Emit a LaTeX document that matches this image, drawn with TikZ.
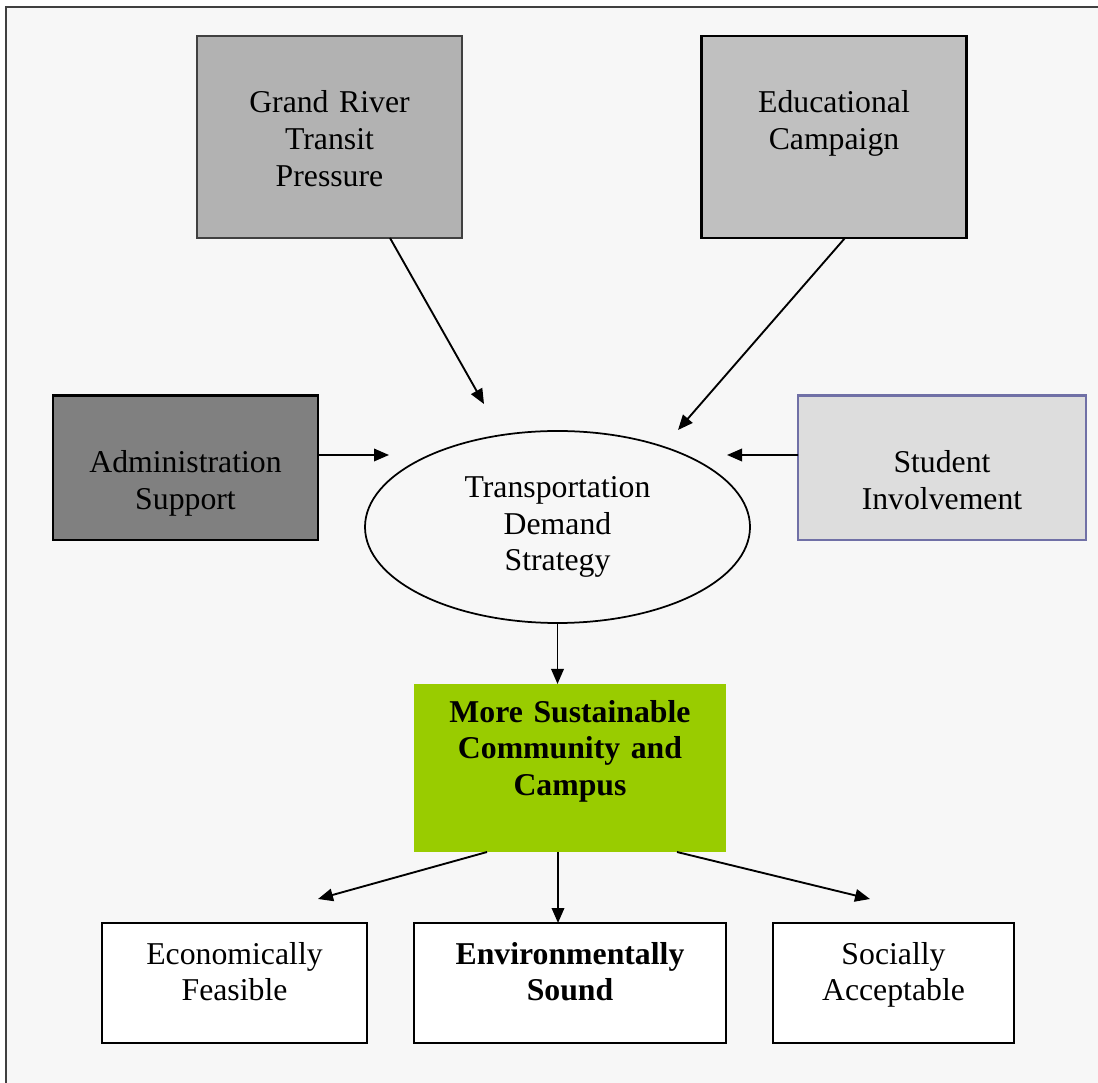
\documentclass[tikz,border=0pt]{standalone}
\usepackage{fontspec}
\setmainfont{Liberation Serif}
\usetikzlibrary{arrows.meta,shapes,positioning,calc}
\definecolor{paper}{HTML}{F7F7F7}
\definecolor{framegrey}{HTML}{404040}
\definecolor{midgrey}{HTML}{B2B2B2}
\definecolor{lightgrey}{HTML}{C0C0C0}
\definecolor{darkgrey}{HTML}{808080}
\definecolor{palegrey}{HTML}{DDDDDD}
\definecolor{paleedge}{HTML}{7070A6}
\definecolor{leaf}{HTML}{99CC00}
\newcommand\diagfont{\fontsize{12.7}{14.7}\selectfont}
\tikzstyle{block} = [rectangle, draw, line width=0.9pt, inner sep=0pt, outer sep=0pt,
    anchor=north, align=center, text height=30.8pt, text depth=50pt]
\tikzstyle{leafbox} = [block, text height=16.4pt, text depth=31.6pt,
    fill=white, draw=black]

\begin{document}
\begin{tikzpicture}[x=0.4pt,y=-0.4pt,font=\diagfont,
                    >={Triangle[length=6pt,width=5pt]}]
  \useasboundingbox (0,0) rectangle (1098,1083);
  \fill[white] (0,0) rectangle (1098,1083);
  \fill[paper] (6,7) rectangle (1098,1083);
  \draw[framegrey, line width=1pt] (6,1083) |- (1098,7);

  \node[block, fill=midgrey, draw=framegrey, text width=106pt] (grt) at (329.5,36) {Grand River\\Transit\\Pressure};
  \node[block, fill=lightgrey, draw=black, text width=106pt] (edu) at (834,36) {Educational\\Campaign};
  \node[block, fill=darkgrey, draw=black, text width=106pt, text depth=27pt] (adm) at (185.5,395.5) {Administration\\Support};
  \node[block, fill=palegrey, draw=paleedge, text width=115.2pt, text depth=27pt] (stu) at (942,395.5) {Student\\Involvement};
  \node[ellipse, draw, line width=0.7pt, inner sep=0pt, outer sep=0pt, align=center,
        minimum width=154pt, minimum height=76.8pt] (tds) at (557.5,527) {Transportation\\Demand\\Strategy};
  \node[block, fill=leaf, draw=none, text width=124.8pt, text height=15.2pt, text depth=52pt,
        font=\diagfont\bfseries] (msc) at (570,684) {More Sustainable\\Community and\\Campus};

  \node[leafbox, text width=106pt] (eco) at (234.5,923) {Economically\\Feasible};
  \node[leafbox, text width=124.8pt, font=\diagfont\bfseries] (env) at (570,923) {Environmentally\\Sound};
  \node[leafbox, text width=96.4pt] (soc) at (893.5,923) {Socially\\Acceptable};

  % free arrow ends
  \coordinate (t1) at (484,404);
  \coordinate (t2) at (678,430);
  \coordinate (t3) at (389,455);
  \coordinate (t4) at (727,455);
  \coordinate (b1) at (318,899);
  \coordinate (b3) at (870,899);

  \path[->, line width=0.75pt]
        ($(grt.south)+(60.5,0)$) edge (t1)
        ($(edu.south)+(11,0)$) edge (t2)
        ($(adm.east)+(0,-12.75)$) edge (t3)
        ($(stu.west)+(0,-12.75)$) edge (t4)
        (tds.south) edge (tds.south |- msc.north)
        ($(msc.south)+(-83,0)$) edge (b1)
        ($(msc.south)+(-12,0)$) edge ($(env.north)+(-12,0)$)
        ($(msc.south)+(107,0)$) edge (b3);
\end{tikzpicture}
\end{document}
